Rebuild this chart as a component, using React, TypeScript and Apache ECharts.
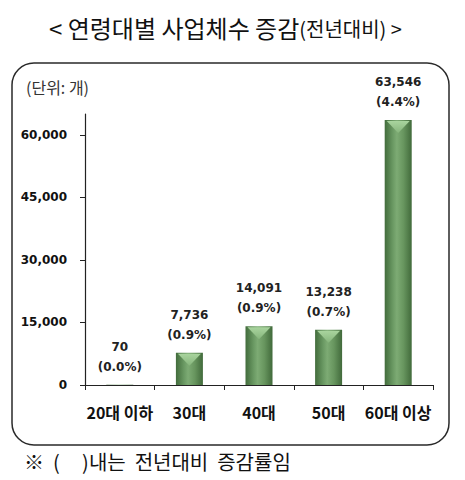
import React, { useEffect, useRef } from "react";
import * as echarts from "echarts";

const categories = ["20대 이하", "30대", "40대", "50대", "60대 이상"];
const values = [70, 7736, 14091, 13238, 63546];
const percents = ["0.0", "0.9", "0.9", "0.7", "4.4"];
const yTicks = [0, 15000, 30000, 45000, 60000];
const titleMain = "< 연령대별 사업체수 증감";
const titleSub = "(전년대비) >";
const unitText = "(단위: 개)";
const noteText = "※  (     )내는  전년대비  증감률임";

const fmt = (v: number) => v.toLocaleString("en-US");
const KR = "'Noto Sans CJK KR', 'Noto Sans', sans-serif";
const NUM = "'DejaVu Sans', Verdana, sans-serif";
const BAR_W = 27;

export default function App() {
  const ref = useRef<HTMLDivElement>(null);
  useEffect(() => {
    if (!ref.current) return;
    const chart = echarts.init(ref.current, undefined, { renderer: "svg" });
    const option: any = {
      animation: false,
      backgroundColor: "#ffffff",
      grid: { left: 85, right: 32, top: 114, bottom: 95, containLabel: false },
      title: {
        left: 44,
        top: 10,
        text: `{a|${titleMain}}{b|${titleSub}}`,
        textStyle: {
          rich: {
            a: { fontFamily: KR, fontSize: 24, color: "#111", fontWeight: "normal" },
            b: { fontFamily: KR, fontSize: 20, color: "#111", fontWeight: "normal", padding: [3, 0, 0, 0] },
          },
        },
      },
      graphic: [
        {
          type: "rect",
          shape: { x: 12, y: 63, width: 437, height: 382, r: 22 },
          style: { fill: "none", stroke: "#2a2a2a", lineWidth: 1.5 },
          silent: true,
        },
        {
          type: "text",
          x: 26,
          y: 79,
          style: { text: unitText, fontFamily: KR, fontSize: 16, fill: "#333" },
        },
        {
          type: "text",
          x: 24,
          y: 451,
          style: { text: noteText, fontFamily: KR, fontSize: 20, fill: "#111" },
        },
      ],
      xAxis: {
        type: "category",
        data: categories,
        axisLine: { lineStyle: { color: "#222", width: 1.2 } },
        axisTick: { show: true, length: 5, lineStyle: { color: "#222" } },
        axisLabel: {
          fontFamily: KR,
          fontSize: 16,
          fontWeight: "bold",
          color: "#111",
          margin: 19,
          interval: 0,
        },
      },
      yAxis: {
        type: "value",
        min: 0,
        max: 65000,
        axisLine: { show: true, lineStyle: { color: "#222", width: 1.2 } },
        axisTick: { show: true, length: 5, customValues: yTicks, lineStyle: { color: "#222" } },
        axisLabel: {
          customValues: yTicks,
          fontFamily: NUM,
          fontSize: 12,
          fontWeight: "bold",
          color: "#111",
          margin: 18,
          formatter: (v: number) => fmt(v),
        },
        splitLine: { show: false },
      },
      series: [
        {
          type: "bar",
          data: values,
          barWidth: BAR_W,
          itemStyle: {
            color: {
              type: "linear",
              x: 0,
              y: 0,
              x2: 1,
              y2: 0,
              colorStops: [
                { offset: 0, color: "#426c3c" },
                { offset: 0.3, color: "#6a9963" },
                { offset: 0.45, color: "#7dab74" },
                { offset: 0.7, color: "#67955e" },
                { offset: 1, color: "#416a3b" },
              ],
            },
          },
          label: {
            show: true,
            position: "top",
            distance: 8,
            fontFamily: NUM,
            fontSize: 12,
            fontWeight: "bold",
            color: "#222",
            lineHeight: 20,
            formatter: (p: any) => `${fmt(values[p.dataIndex])}\n(${percents[p.dataIndex]}%)`,
          },
          z: 2,
        },
        {
          type: "custom",
          data: values.map((v, i) => [i, v]),
          encode: { x: 0, y: 1 },
          z: 3,
          silent: true,
          renderItem: (params: any, api: any) => {
            const idx = api.value(0);
            const v = api.value(1);
            const top = api.coord([idx, v]);
            const base = api.coord([idx, 0]);
            const h = Math.min(13, base[1] - top[1]);
            if (h < 2) return { type: "group", children: [] };
            const x = top[0];
            const w = BAR_W - 4;
            return {
              type: "polygon",
              shape: {
                points: [
                  [x - w / 2, top[1] + 1],
                  [x + w / 2, top[1] + 1],
                  [x, top[1] + h],
                ],
              },
              style: {
                fill: {
                  type: "linear",
                  x: 0,
                  y: 0,
                  x2: 0,
                  y2: 1,
                  colorStops: [
                    { offset: 0, color: "#a9d49e" },
                    { offset: 1, color: "#86b57c" },
                  ],
                },
              },
            };
          },
        },
      ],
    };
    chart.setOption(option);
    return () => chart.dispose();
  }, []);
  return (
    <div
      ref={ref}
      style={{ position: "fixed", left: 0, top: 0, width: 465, height: 480, background: "#fff" }}
    />
  );
}
